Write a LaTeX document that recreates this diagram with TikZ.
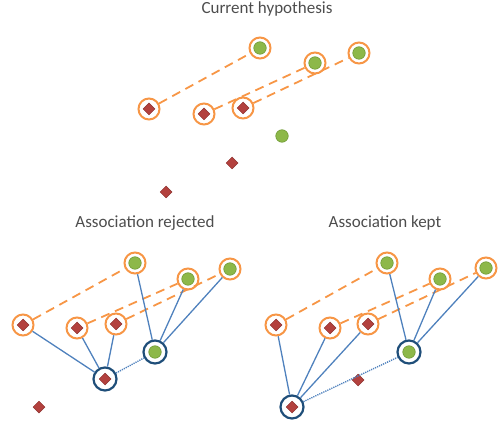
\documentclass[tikz,border=0pt]{standalone}
\usepackage{fontspec}
\setmainfont{Carlito}
\usetikzlibrary{shapes.geometric}
\definecolor{ringorange}{HTML}{F79646}
\definecolor{dotgreen}{HTML}{8DB849}
\definecolor{dotedge}{HTML}{6F9A34}
\definecolor{diared}{HTML}{B3413E}
\definecolor{diaedge}{HTML}{8C2F2C}
\definecolor{linkblue}{HTML}{4F81BD}
\definecolor{trackblue}{HTML}{1F4E79}
\definecolor{titlegray}{HTML}{4D4D4D}
\tikzset{
  hyp/.style={circle,draw=ringorange,line width=2pt,minimum size=21pt,inner sep=0pt},
  trk/.style={circle,draw=trackblue,line width=2.2pt,minimum size=23pt,inner sep=0pt},
  feat/.style={circle,fill=dotgreen,draw=dotedge,line width=0.6pt,minimum size=12.5pt,inner sep=0pt},
  meas/.style={diamond,fill=diared,draw=diaedge,line width=0.5pt,minimum size=12pt,inner sep=0pt},
  assoc/.style={ringorange,line width=1.8pt,dash pattern=on 9pt off 6pt},
  link/.style={linkblue,line width=1.3pt},
  cand/.style={linkblue,line width=1.4pt,dash pattern=on 1.2pt off 1pt},
  title/.style={text=titlegray,font=\fontsize{17}{19}\selectfont}
}
\begin{document}
\begin{tikzpicture}[x=1pt,y=-1pt]
\useasboundingbox (0,0) rectangle (498,430);
% current hypothesis
\node[title] (t1) at (267,9) {Current hypothesis};
\node[hyp] (ar1) at (149,109) {}; \node[meas] (am1) at (ar1) {};
\node[hyp] (ar2) at (204,114) {}; \node[meas] (am2) at (ar2) {};
\node[hyp] (ar3) at (243,108) {}; \node[meas] (am3) at (ar3) {};
\node[hyp] (ag1) at (260,48) {}; \node[feat] (af1) at (ag1) {};
\node[hyp] (ag2) at (315,63) {}; \node[feat] (af2) at (ag2) {};
\node[hyp] (ag3) at (359,53) {}; \node[feat] (af3) at (ag3) {};
\node[feat] (af4) at (282,136) {};
\node[meas] (am4) at (232,163) {};
\node[meas] (am5) at (166,192) {};
\draw[assoc] (ar1) -- (ag1);
\draw[assoc] (ar2) -- (ag2);
\draw[assoc] (ar3) -- (ag3);
% association rejected
\node[title] (t2) at (145,223) {Association rejected};
\node[hyp] (br1) at (23,325) {}; \node[meas] (bm1) at (br1) {};
\node[hyp] (br2) at (77,328) {}; \node[meas] (bm2) at (br2) {};
\node[hyp] (br3) at (116,324) {}; \node[meas] (bm3) at (br3) {};
\node[hyp] (bg1) at (135,263) {}; \node[feat] (bf1) at (bg1) {};
\node[hyp] (bg2) at (188,279) {}; \node[feat] (bf2) at (bg2) {};
\node[hyp] (bg3) at (230,269) {}; \node[feat] (bf3) at (bg3) {};
\node[trk] (bt1) at (155,352) {}; \node[feat] (bf4) at (bt1) {};
\node[trk] (bt2) at (105,379) {}; \node[meas] (bm4) at (bt2) {};
\node[meas] (bm5) at (39,407) {};
\draw[assoc] (br1) -- (bg1);
\draw[assoc] (br2) -- (bg2);
\draw[assoc] (br3) -- (bg3);
\draw[link] (bt2) -- (br1);
\draw[link] (bt2) -- (br2);
\draw[link] (bt2) -- (br3);
\draw[link] (bt1) -- (bg1);
\draw[link] (bt1) -- (bg2);
\draw[link] (bt1) -- (bg3);
\draw[cand] (bt2) -- (bt1);
% association kept
\node[title] (t3) at (385,223) {Association kept};
\node[hyp] (cr1) at (276,325) {}; \node[meas] (cm1) at (cr1) {};
\node[hyp] (cr2) at (330,328) {}; \node[meas] (cm2) at (cr2) {};
\node[hyp] (cr3) at (368,324) {}; \node[meas] (cm3) at (cr3) {};
\node[hyp] (cg1) at (387,263) {}; \node[feat] (cf1) at (cg1) {};
\node[hyp] (cg2) at (440,279) {}; \node[feat] (cf2) at (cg2) {};
\node[hyp] (cg3) at (486,268) {}; \node[feat] (cf3) at (cg3) {};
\node[trk] (ct1) at (409,352) {}; \node[feat] (cf4) at (ct1) {};
\node[trk] (ct2) at (292,407) {}; \node[meas] (cm4) at (ct2) {};
\node[meas] (cm5) at (358,380) {};
\draw[assoc] (cr1) -- (cg1);
\draw[assoc] (cr2) -- (cg2);
\draw[assoc] (cr3) -- (cg3);
\draw[link] (ct2) -- (cr1);
\draw[link] (ct2) -- (cr2);
\draw[link] (ct2) -- (cr3);
\draw[link] (ct1) -- (cg1);
\draw[link] (ct1) -- (cg2);
\draw[link] (ct1) -- (cg3);
\draw[cand] (ct2) -- (ct1);
\end{tikzpicture}
\end{document}
